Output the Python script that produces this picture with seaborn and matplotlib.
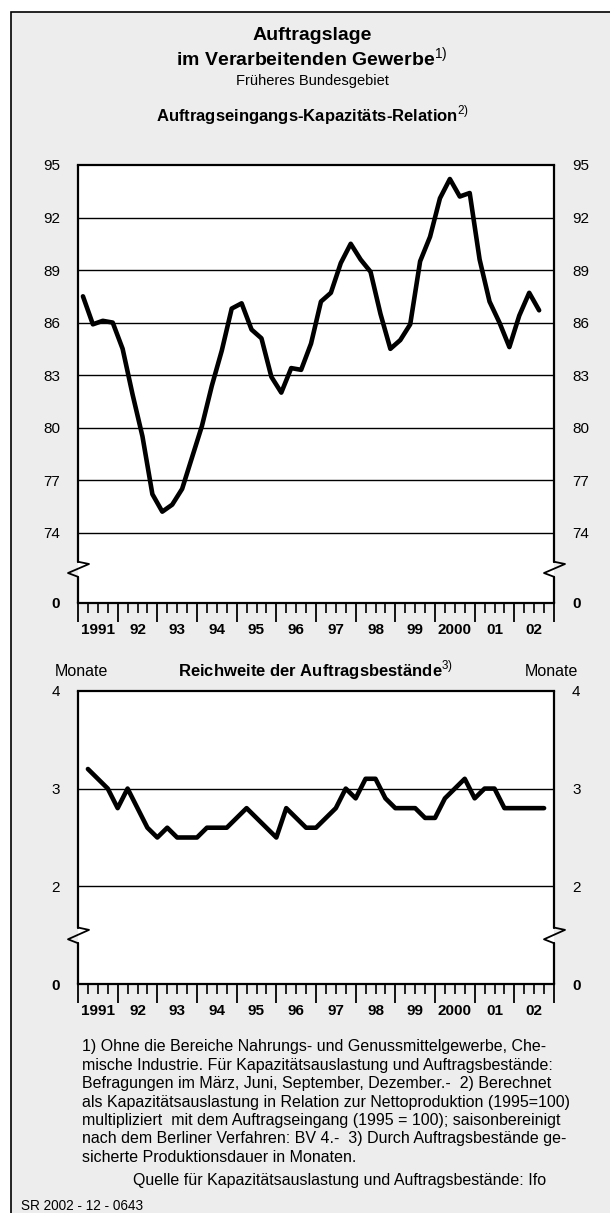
import numpy as np
import pandas as pd
import matplotlib
matplotlib.use('Agg')
import matplotlib.pyplot as plt
import matplotlib.transforms as mtransforms
from matplotlib.patches import Rectangle
import seaborn as sns

sns.set_theme(style='white')
plt.rcParams['font.family'] = ['Liberation Sans', 'DejaVu Sans']
plt.rcParams['mathtext.fontset'] = 'custom'
plt.rcParams['mathtext.rm'] = 'Liberation Sans'
plt.rcParams['mathtext.bf'] = 'Liberation Sans:bold'
plt.rcParams['text.color'] = 'black'
plt.rcParams['xtick.color'] = 'black'
plt.rcParams['ytick.color'] = 'black'
plt.rcParams['xtick.labelcolor'] = 'black'
plt.rcParams['ytick.labelcolor'] = 'black'

# data: quarterly values, 1991 Q1 .. 2002 Q3
first_year = 1991
year_labels = ['1991', '92', '93', '94', '95', '96', '97', '98', '99', '2000', '01', '02']
relation = [87.5, 85.9, 86.1, 86.0, 84.5, 81.9, 79.5, 76.2, 75.2, 75.6,
            76.5, 78.3, 80.1, 82.4, 84.4, 86.8, 87.1, 85.6, 85.1, 82.9,
            82.0, 83.4, 83.3, 84.8, 87.2, 87.7, 89.4, 90.5, 89.6, 88.9,
            86.5, 84.5, 85.0, 85.9, 89.5, 90.9, 93.1, 94.2, 93.2, 93.4,
            89.6, 87.2, 86.0, 84.6, 86.4, 87.7, 86.7]
reichweite = [3.2, 3.1, 3.0, 2.8, 3.0, 2.8, 2.6, 2.5, 2.6, 2.5,
              2.5, 2.5, 2.6, 2.6, 2.6, 2.7, 2.8, 2.7, 2.6, 2.5,
              2.8, 2.7, 2.6, 2.6, 2.7, 2.8, 3.0, 2.9, 3.1, 3.1,
              2.9, 2.8, 2.8, 2.8, 2.7, 2.7, 2.9, 3.0, 3.1, 2.9,
              3.0, 3.0, 2.8, 2.8, 2.8, 2.8, 2.8]
top_ticks = [74, 77, 80, 83, 86, 89, 92, 95]
bot_ticks = [2, 3, 4]

k = np.arange(len(relation))
df = pd.DataFrame({'year': first_year + k // 4, 'q': k % 4 + 1,
                   'relation': relation, 'reichweite': reichweite})
# order-input index is shown mid-quarter, survey values at quarter end
df['x_mid'] = df['year'] + (df['q'] - 0.5) / 4
df['x_end'] = df['year'] + df['q'] / 4

W, H = 610, 1213
fig = plt.figure(figsize=(W / 100, H / 100), dpi=100)
fig.patch.set_facecolor('white')
fig.patches.append(Rectangle((11 / W, -0.05), 1.1, 1 - 12 / H + 0.05,
                             transform=fig.transFigure, facecolor='#ededed',
                             edgecolor='black', linewidth=1.2, zorder=-5))


def fy(y):
    return 1 - y / H


def draw_panel(ax, x, y, ylo, ticks, zig_lo, zig_hi):
    sns.lineplot(x=x, y=y, data=df, ax=ax, color='black', linewidth=3.3,
                 legend=False, zorder=5)
    ax.set_facecolor('white')
    ax.set_xlim(first_year, first_year + len(year_labels))
    ax.set_ylim(ylo, ticks[-1])
    ax.set_xlabel('')
    ax.set_ylabel('')
    for t in ticks[:-1]:
        ax.axhline(t, color='black', linewidth=1.0, zorder=2)
    ax.set_yticks([ylo] + ticks, ['0'] + [str(t) for t in ticks])
    ax.tick_params(axis='y', length=0, labelsize=11, pad=13,
                   left=True, right=True, labelleft=True, labelright=True)
    for lab in ax.yaxis.get_ticklabels() + [t.label2 for t in ax.yaxis.get_major_ticks()]:
        if lab.get_text() == '0':
            lab.set_fontweight('bold')
    # x ticks: year boundaries long, quarters short
    yrs = np.arange(first_year, first_year + len(year_labels) + 1)
    ax.set_xticks(yrs, [''] * len(yrs))
    qs = [y0 + j / 4 for y0 in yrs[:-1] for j in (1, 2, 3)]
    ax.set_xticks(qs, minor=True)
    ax.tick_params(axis='x', which='major', direction='out', length=14,
                   width=1.3, bottom=True)
    ax.tick_params(axis='x', which='minor', direction='out', length=7,
                   width=1.2, bottom=True)
    trans = mtransforms.offset_copy(
        mtransforms.blended_transform_factory(ax.transData, ax.transAxes),
        fig=fig, x=0, y=-27, units='dots')
    for i, lab in enumerate(year_labels):
        ax.text(first_year + i + 0.5, 0, lab, transform=trans, ha='center',
                va='center', fontsize=11, fontweight='bold')
    for s in ['top', 'bottom']:
        ax.spines[s].set_visible(True)
        ax.spines[s].set_color('black')
        ax.spines[s].set_linewidth(1.6)
    for s in ['left', 'right']:
        ax.spines[s].set_visible(False)
    # broken side axes with zigzag
    ytr = ax.get_yaxis_transform()
    wpx = ax.get_position().width * W
    dl, dr = 10 / wpx, 11 / wpx
    span = zig_hi - zig_lo
    for x0 in (0, 1):
        ax.plot([x0, x0], [ylo, zig_lo], color='black', lw=1.6,
                transform=ytr, clip_on=False, zorder=6)
        ax.plot([x0, x0 - dl, x0 + dr, x0],
                [zig_lo, zig_lo + 0.25 * span, zig_lo + 0.85 * span, zig_hi],
                color='black', lw=1.3, transform=ytr, clip_on=False, zorder=6)
        ax.plot([x0, x0], [zig_hi, ticks[-1]], color='black', lw=1.6,
                transform=ytr, clip_on=False, zorder=6)


# top panel
x0, x1 = 78 / W, 554 / W
ax1 = fig.add_axes([x0, fy(602.7), x1 - x0, fy(165) - fy(602.7)])
draw_panel(ax1, 'x_mid', 'relation', 70.0, top_ticks, 71.48, 72.34)

# bottom panel
ax2 = fig.add_axes([x0, fy(984.3), x1 - x0, fy(690.7) - fy(984.3)])
draw_panel(ax2, 'x_end', 'reichweite', 1.0, bot_ticks, 1.42, 1.58)

# titles
fig.text(312 / W, fy(35), 'Auftragslage', ha='center', va='center',
         fontsize=14, fontweight='bold')
fig.text(312 / W, fy(58), r'im Verarbeitenden Gewerbe$^{1)}$', ha='center',
         va='center', fontsize=14, fontweight='bold')
fig.text(312 / W, fy(81), 'Früheres Bundesgebiet', ha='center', va='center',
         fontsize=10.5)
fig.text(312 / W, fy(115), r'Auftragseingangs-Kapazitäts-Relation$^{2)}$',
         ha='center', va='center', fontsize=12, fontweight='bold')
fig.text(316 / W, fy(670), r'Reichweite der Auftragsbestände$^{3)}$',
         ha='center', va='center', fontsize=12, fontweight='bold')
fig.text(81 / W, fy(672), 'Monate', ha='center', va='center', fontsize=11.5)
fig.text(551 / W, fy(672), 'Monate', ha='center', va='center', fontsize=11.5)

notes = [
    '1) Ohne die Bereiche Nahrungs- und Genussmittelgewerbe, Che-',
    'mische Industrie. Für Kapazitätsauslastung und Auftragsbestände:',
    'Befragungen im März, Juni, September, Dezember.-  2) Berechnet',
    'als Kapazitätsauslastung in Relation zur Nettoproduktion (1995=100)',
    'multipliziert  mit dem Auftragseingang (1995 = 100); saisonbereinigt',
    'nach dem Berliner Verfahren: BV 4.-  3) Durch Auftragsbestände ge-',
    'sicherte Produktionsdauer in Monaten.',
]
for i, line in enumerate(notes):
    fig.text(82 / W, fy(1047 + 18.4 * i), line, ha='left', va='center',
             fontsize=11.5)
fig.text(340 / W, fy(1180), 'Quelle für Kapazitätsauslastung und Auftragsbestände: Ifo',
         ha='center', va='center', fontsize=11.5)
fig.text(21 / W, fy(1206), 'SR 2002 - 12 - 0643', ha='left', va='center',
         fontsize=9.8)

fig.savefig('out.png', dpi=100, facecolor='white')
